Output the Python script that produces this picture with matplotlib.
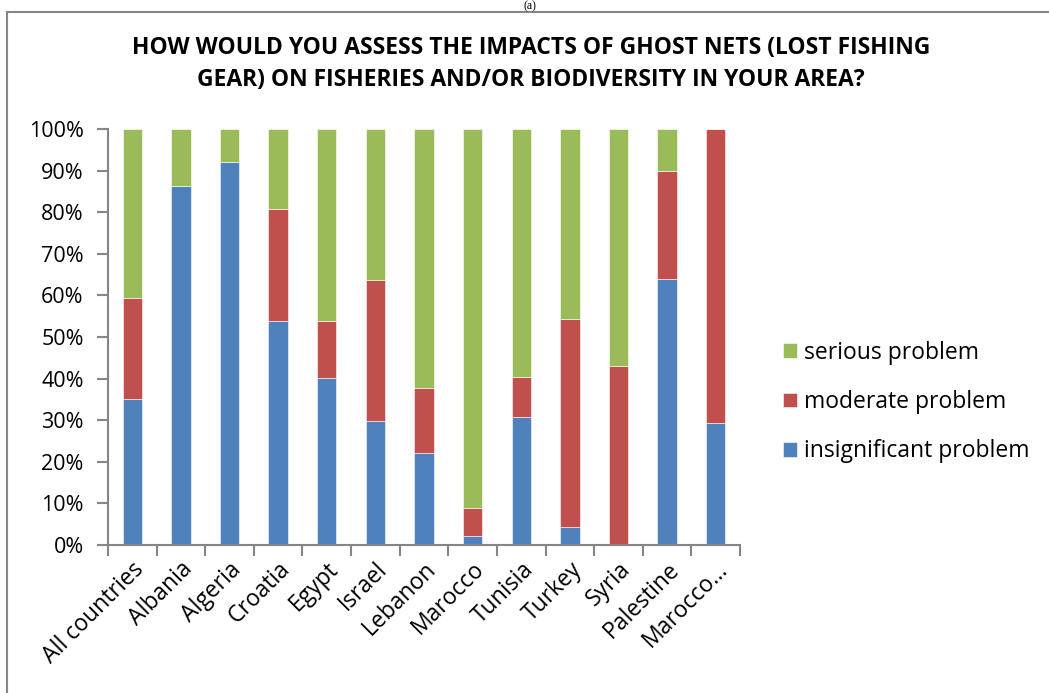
import matplotlib
matplotlib.use("Agg")
import matplotlib.pyplot as plt
from matplotlib.patches import Rectangle
import numpy as np

categories = ["All countries", "Albania", "Algeria", "Croatia", "Egypt", "Israel",
              "Lebanon", "Marocco", "Tunisia", "Turkey", "Syria", "Palestine", "Marocco..."]
insignificant = [35.1, 86.4, 92.1, 53.8, 40.1, 29.7, 22.0, 2.2, 30.7, 4.25, 0.0, 64.0, 29.3]
moderate = [24.3, 0.0, 0.0, 27.0, 13.8, 34.0, 15.8, 6.6, 9.7, 50.05, 43.1, 26.0, 70.7]
serious = [40.6, 13.6, 7.9, 19.2, 46.1, 36.3, 62.2, 91.2, 59.6, 45.7, 56.9, 10.0, 0.0]
series_names = ["insignificant problem", "moderate problem", "serious problem"]
colors = ["#4F81BD", "#C0504D", "#9BBB59"]
yticks = [0, 10, 20, 30, 40, 50, 60, 70, 80, 90, 100]

plt.rcParams['font.family'] = ['Open Sans', 'DejaVu Sans']
W, H = 1049, 693
fig = plt.figure(figsize=(W / 100, H / 100), dpi=100)

# chart border
fig.patches.append(Rectangle((7 / W, -0.1), 1.2, 1 - 12 / H + 0.1, transform=fig.transFigure,
                             fill=False, edgecolor="#868686", linewidth=1.5))
fig.text(530 / W, 1 - 0.5 / H, "(a)", ha="center", va="top", fontsize=8.5, family="Liberation Serif")

ax = fig.add_axes([108 / W, 1 - 545 / H, (740 - 108) / W, (545 - 129) / H])
x = np.arange(len(categories))
bottom = np.zeros(len(categories))
data = [insignificant, moderate, serious]
handles = []
for vals, c, name in zip(data, colors, series_names):
    vals = np.array(vals)
    b = ax.bar(x, vals, 0.4, bottom=bottom, color=c, edgecolor="white", linewidth=0.4, label=name)
    handles.append(b)
    bottom += vals

ax.set_xlim(-0.5, len(categories) - 0.5)
ax.set_ylim(0, 100)
ax.set_yticks(yticks)
ax.set_yticklabels([f"{v}%" for v in yticks], fontsize=15.5)
ax.set_xticks(x)
ax.set_xticklabels(categories, rotation=45, ha="right", rotation_mode="anchor", fontsize=16.5)
ax.tick_params(axis="x", which="major", length=0, pad=9)
ax.set_xticks(np.arange(-0.5, len(categories)), minor=True)
ax.tick_params(axis="x", which="minor", length=8, width=1.5, color="#868686", direction="out")
ax.tick_params(axis="y", length=8, width=1.5, color="#868686", direction="out", pad=9.5)
for s in ["top", "right"]:
    ax.spines[s].set_visible(False)
for s in ["left", "bottom"]:
    ax.spines[s].set_color("#868686")
    ax.spines[s].set_linewidth(1.5)

fig.text(531 / W, 1 - 48 / H, "HOW WOULD YOU ASSESS THE IMPACTS OF GHOST NETS (LOST FISHING",
         ha="center", va="center", fontsize=16.5, fontweight="bold")
fig.text(531 / W, 1 - 80 / H, "GEAR) ON FISHERIES AND/OR BIODIVERSITY IN YOUR AREA?",
         ha="center", va="center", fontsize=16.5, fontweight="bold")

leg = fig.legend(handles[::-1], series_names[::-1], loc="center left",
                 bbox_to_anchor=(762 / W, 1 - 402 / H), frameon=False, fontsize=16.5,
                 handlelength=0.62, handleheight=0.62, handletextpad=0.3, labelspacing=1.1)

fig.savefig("out.png", dpi=100)
